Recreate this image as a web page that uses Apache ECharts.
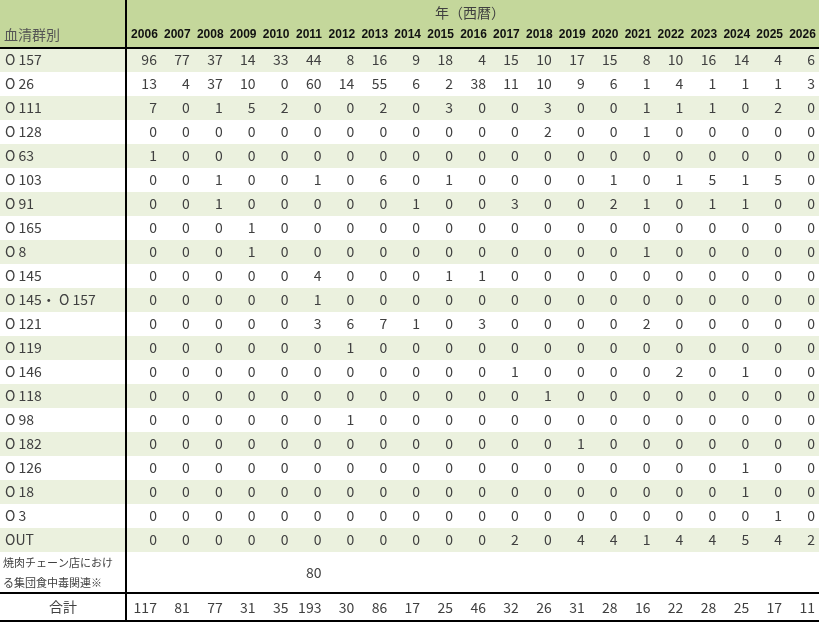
<!DOCTYPE html>
<html>
<head>
<meta charset="utf-8">
<script src="https://cdn.jsdelivr.net/npm/echarts@6/dist/echarts.min.js"></script>
<style>html,body{margin:0;padding:0;background:#fff}#main{width:819px;height:623px}</style>
</head>
<body>
<div id="main"></div>
<script>
const years = ['2006','2007','2008','2009','2010','2011','2012','2013','2014','2015','2016','2017','2018','2019','2020','2021','2022','2023','2024','2025','2026'];
const serotypes = ['O157','O26','O111','O128','O63','O103','O91','O165','O8','O145','O145・O157','O121','O119','O146','O118','O98','O182','O126','O18','O3','OUT'];
const serotypeLabels = ['O 157','O 26','O 111','O 128','O 63','O 103','O 91','O 165','O 8','O 145','O 145・ O 157','O 121','O 119','O 146','O 118','O 98','O 182','O 126','O 18','O 3','OUT'];
const counts = [
  [96,77,37,14,33,44,8,16,9,18,4,15,10,17,15,8,10,16,14,4,6],
  [13,4,37,10,0,60,14,55,6,2,38,11,10,9,6,1,4,1,1,1,3],
  [7,0,1,5,2,0,0,2,0,3,0,0,3,0,0,1,1,1,0,2,0],
  [0,0,0,0,0,0,0,0,0,0,0,0,2,0,0,1,0,0,0,0,0],
  [1,0,0,0,0,0,0,0,0,0,0,0,0,0,0,0,0,0,0,0,0],
  [0,0,1,0,0,1,0,6,0,1,0,0,0,0,1,0,1,5,1,5,0],
  [0,0,1,0,0,0,0,0,1,0,0,3,0,0,2,1,0,1,1,0,0],
  [0,0,0,1,0,0,0,0,0,0,0,0,0,0,0,0,0,0,0,0,0],
  [0,0,0,1,0,0,0,0,0,0,0,0,0,0,0,1,0,0,0,0,0],
  [0,0,0,0,0,4,0,0,0,1,1,0,0,0,0,0,0,0,0,0,0],
  [0,0,0,0,0,1,0,0,0,0,0,0,0,0,0,0,0,0,0,0,0],
  [0,0,0,0,0,3,6,7,1,0,3,0,0,0,0,2,0,0,0,0,0],
  [0,0,0,0,0,0,1,0,0,0,0,0,0,0,0,0,0,0,0,0,0],
  [0,0,0,0,0,0,0,0,0,0,0,1,0,0,0,0,2,0,1,0,0],
  [0,0,0,0,0,0,0,0,0,0,0,0,1,0,0,0,0,0,0,0,0],
  [0,0,0,0,0,0,1,0,0,0,0,0,0,0,0,0,0,0,0,0,0],
  [0,0,0,0,0,0,0,0,0,0,0,0,0,1,0,0,0,0,0,0,0],
  [0,0,0,0,0,0,0,0,0,0,0,0,0,0,0,0,0,0,1,0,0],
  [0,0,0,0,0,0,0,0,0,0,0,0,0,0,0,0,0,0,1,0,0],
  [0,0,0,0,0,0,0,0,0,0,0,0,0,0,0,0,0,0,0,1,0],
  [0,0,0,0,0,0,0,0,0,0,0,2,0,4,4,1,4,4,5,4,2]
];
const yakinikuYear = '2011';
const yakinikuCount = 80;
const totals = [117,81,77,31,35,193,30,86,17,25,46,32,26,31,28,16,22,28,25,17,11];

const FONT = '"Noto Sans CJK JP", "Noto Sans", sans-serif';
const TXT = '#404040';
const chart = echarts.init(document.getElementById('main'));

const cellData = [];
counts.forEach((row, r) => row.forEach((v, c) => cellData.push([c, r, v])));

function cellText(params, api) {
  const p = api.coord([api.value(0), api.value(1)]);
  const s = api.size([1, 1]);
  return {
    type: 'text',
    style: {
      x: p[0] + s[0] / 2 - 4, y: p[1], text: String(api.value(2)),
      align: 'right', verticalAlign: 'middle',
      font: '14px ' + FONT, fill: TXT
    }
  };
}

const hiddenX = (gi) => ({ type: 'category', data: years, gridIndex: gi, show: false });

const option = {
  animation: false,
  grid: [
    { left: 128, right: 0, top: 48, height: 504 },
    { left: 128, right: 0, top: 552, height: 41 },
    { left: 128, right: 0, top: 594, height: 27 }
  ],
  xAxis: [
    { type: 'category', data: years, gridIndex: 0, position: 'top',
      axisLine: { show: false }, axisTick: { show: false },
      axisLabel: { interval: 0, hideOverlap: false, margin: 7, fontWeight: 'bold', fontSize: 12,
        color: '#111', fontFamily: '"Liberation Sans", Arial, sans-serif' } },
    hiddenX(1), hiddenX(2)
  ],
  yAxis: [
    { type: 'category', data: serotypes, gridIndex: 0, inverse: true, show: false },
    { type: 'category', data: ['焼肉チェーン店における集団食中毒関連※'], gridIndex: 1, show: false },
    { type: 'category', data: ['合計'], gridIndex: 2, show: false }
  ],
  series: [
    { // alternating row shading + row labels
      type: 'custom', xAxisIndex: 0, yAxisIndex: 0, silent: true,
      data: serotypes.map((s, i) => [0, i]),
      renderItem: (params, api) => {
        const i = api.value(1);
        const p = api.coord([0, i]);
        const h = api.size([1, 1])[1];
        const children = [];
        if (i % 2 === 0) {
          children.push({ type: 'rect', shape: { x: 0, y: p[1] - h / 2, width: 819, height: h },
            style: { fill: '#ebf1de' } });
        }
        children.push({ type: 'text', style: { x: 5, y: p[1], text: serotypeLabels[i],
          verticalAlign: 'middle', font: '14px ' + FONT, fill: TXT } });
        return { type: 'group', children };
      }
    },
    { type: 'custom', xAxisIndex: 0, yAxisIndex: 0, silent: true, data: cellData, renderItem: cellText, z: 3 },
    { type: 'custom', xAxisIndex: 1, yAxisIndex: 1, silent: true,
      data: [[years.indexOf(yakinikuYear), 0, yakinikuCount]], renderItem: cellText },
    { type: 'custom', xAxisIndex: 2, yAxisIndex: 2, silent: true,
      data: totals.map((v, c) => [c, 0, v]), renderItem: cellText }
  ],
  graphic: [
    { type: 'rect', shape: { x: 0, y: 0, width: 819, height: 48 }, style: { fill: '#c4d79b' }, z: -1 },
    { type: 'text', style: { x: 470, y: 13, text: '年（西暦）', align: 'center', verticalAlign: 'middle', font: '14px ' + FONT, fill: TXT } },
    { type: 'text', style: { x: 4, y: 35, text: '血清群別', verticalAlign: 'middle', font: '14px ' + FONT, fill: '#555' } },
    { type: 'text', style: { x: 3, y: 563, text: '焼肉チェーン店におけ', verticalAlign: 'middle', font: '11px ' + FONT, fill: TXT } },
    { type: 'text', style: { x: 3, y: 583, text: 'る集団食中毒関連※', verticalAlign: 'middle', font: '11px ' + FONT, fill: TXT } },
    { type: 'text', style: { x: 63, y: 607, text: '合計', align: 'center', verticalAlign: 'middle', font: '14px ' + FONT, fill: TXT } },
    { type: 'line', shape: { x1: 126, y1: 0, x2: 126, y2: 622 }, style: { stroke: '#000', lineWidth: 2 }, z: 10 },
    { type: 'line', shape: { x1: 0, y1: 48, x2: 819, y2: 48 }, style: { stroke: '#000', lineWidth: 2 }, z: 10 },
    { type: 'line', shape: { x1: 0, y1: 593, x2: 819, y2: 593 }, style: { stroke: '#000', lineWidth: 2 }, z: 10 },
    { type: 'line', shape: { x1: 0, y1: 621, x2: 819, y2: 621 }, style: { stroke: '#000', lineWidth: 2 }, z: 10 }
  ]
};
chart.setOption(option);
</script>
</body>
</html>
